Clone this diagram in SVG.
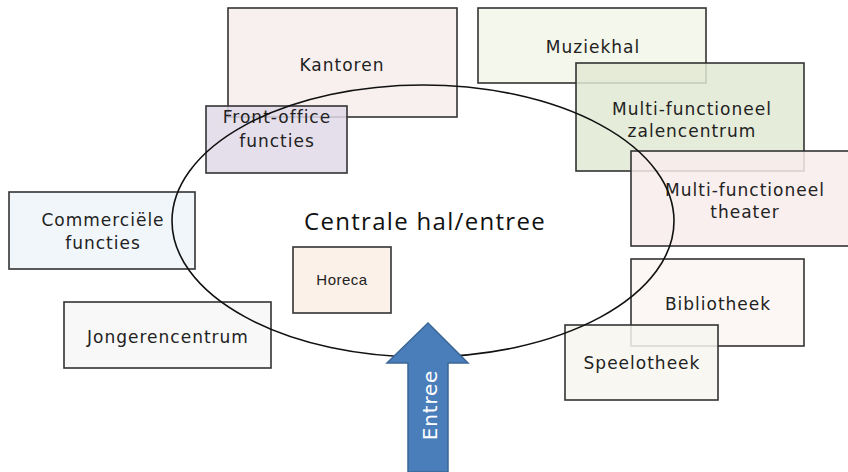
<svg xmlns="http://www.w3.org/2000/svg" width="848" height="472" viewBox="0 0 848 472">
<style>
.box{stroke:#333;stroke-width:1.6;fill-opacity:0.85}
.t{font-family:"DejaVu Sans",Verdana,sans-serif;font-size:17px;letter-spacing:1px;fill:#222;text-anchor:middle}
</style>
<rect width="848" height="472" fill="#fff"/>
<g id="kantoren"><rect class="box" x="228" y="8" width="229" height="109" fill="#f7ecec"/><text class="t" x="342" y="71">Kantoren</text></g>
<g id="muziekhal"><rect class="box" x="478" y="8" width="228" height="75" fill="#f2f6e8"/><text class="t" x="593" y="53">Muziekhal</text></g>
<g id="zalencentrum"><rect class="box" x="576" y="63" width="228" height="108" fill="#e2e9d3"/><text class="t" x="692" y="115">Multi-functioneel</text><text class="t" x="692" y="137">zalencentrum</text></g>
<g id="theater"><rect class="box" x="631" y="151" width="230" height="95" fill="#f8ecec"/><text class="t" x="745" y="196">Multi-functioneel</text><text class="t" x="745" y="218">theater</text></g>
<g id="frontoffice"><rect class="box" x="206" y="106" width="141" height="67" fill="#e1d9e8"/><text class="t" x="277" y="123">Front-office</text><text class="t" x="277" y="147">functies</text></g>
<g id="commercieel"><rect class="box" x="9" y="192" width="186" height="77" fill="#eff4f9"/><text class="t" x="103" y="226">Commerciële</text><text class="t" x="103" y="249">functies</text></g>
<g id="jongerencentrum"><rect class="box" x="64" y="302" width="207" height="66" fill="#f7f7f7"/><text class="t" x="168" y="343">Jongerencentrum</text></g>
<g id="horeca"><rect class="box" x="293" y="247" width="98" height="66" fill="#fcefe5"/><text x="342" y="285" style="font-family:'Liberation Sans',Arial,sans-serif;font-size:15px;letter-spacing:0.5px;fill:#222;text-anchor:middle">Horeca</text></g>
<g id="bibliotheek"><rect class="box" x="631" y="259" width="173" height="87" fill="#fcf6f2"/><text class="t" x="718" y="310">Bibliotheek</text></g>
<g id="speelotheek"><rect class="box" x="565" y="325" width="153" height="75" fill="#f7f6ef"/><text class="t" x="642" y="369">Speelotheek</text></g>
<g id="centrale-hal"><ellipse cx="423" cy="221" rx="251" ry="136" fill="none" stroke="#111" stroke-width="1.6"/><text x="425" y="230" style="font-family:'Open Sans','Liberation Sans',sans-serif;font-size:24px;letter-spacing:1.3px;fill:#111;text-anchor:middle">Centrale hal/entree</text></g>
<g id="connectors"><g id="entree-arrow"><path d="M408 472 L408 363 L387 363 L428 323 L468 363 L448 363 L448 472 Z" fill="#4a7ebb" stroke="#3a6797" stroke-width="1.5"/><text x="0" y="0" transform="translate(437 405) rotate(-90)" style="font-family:'DejaVu Sans',Verdana,sans-serif;font-size:20px;letter-spacing:0.8px;fill:#fff;text-anchor:middle">Entree</text></g></g>
</svg>
